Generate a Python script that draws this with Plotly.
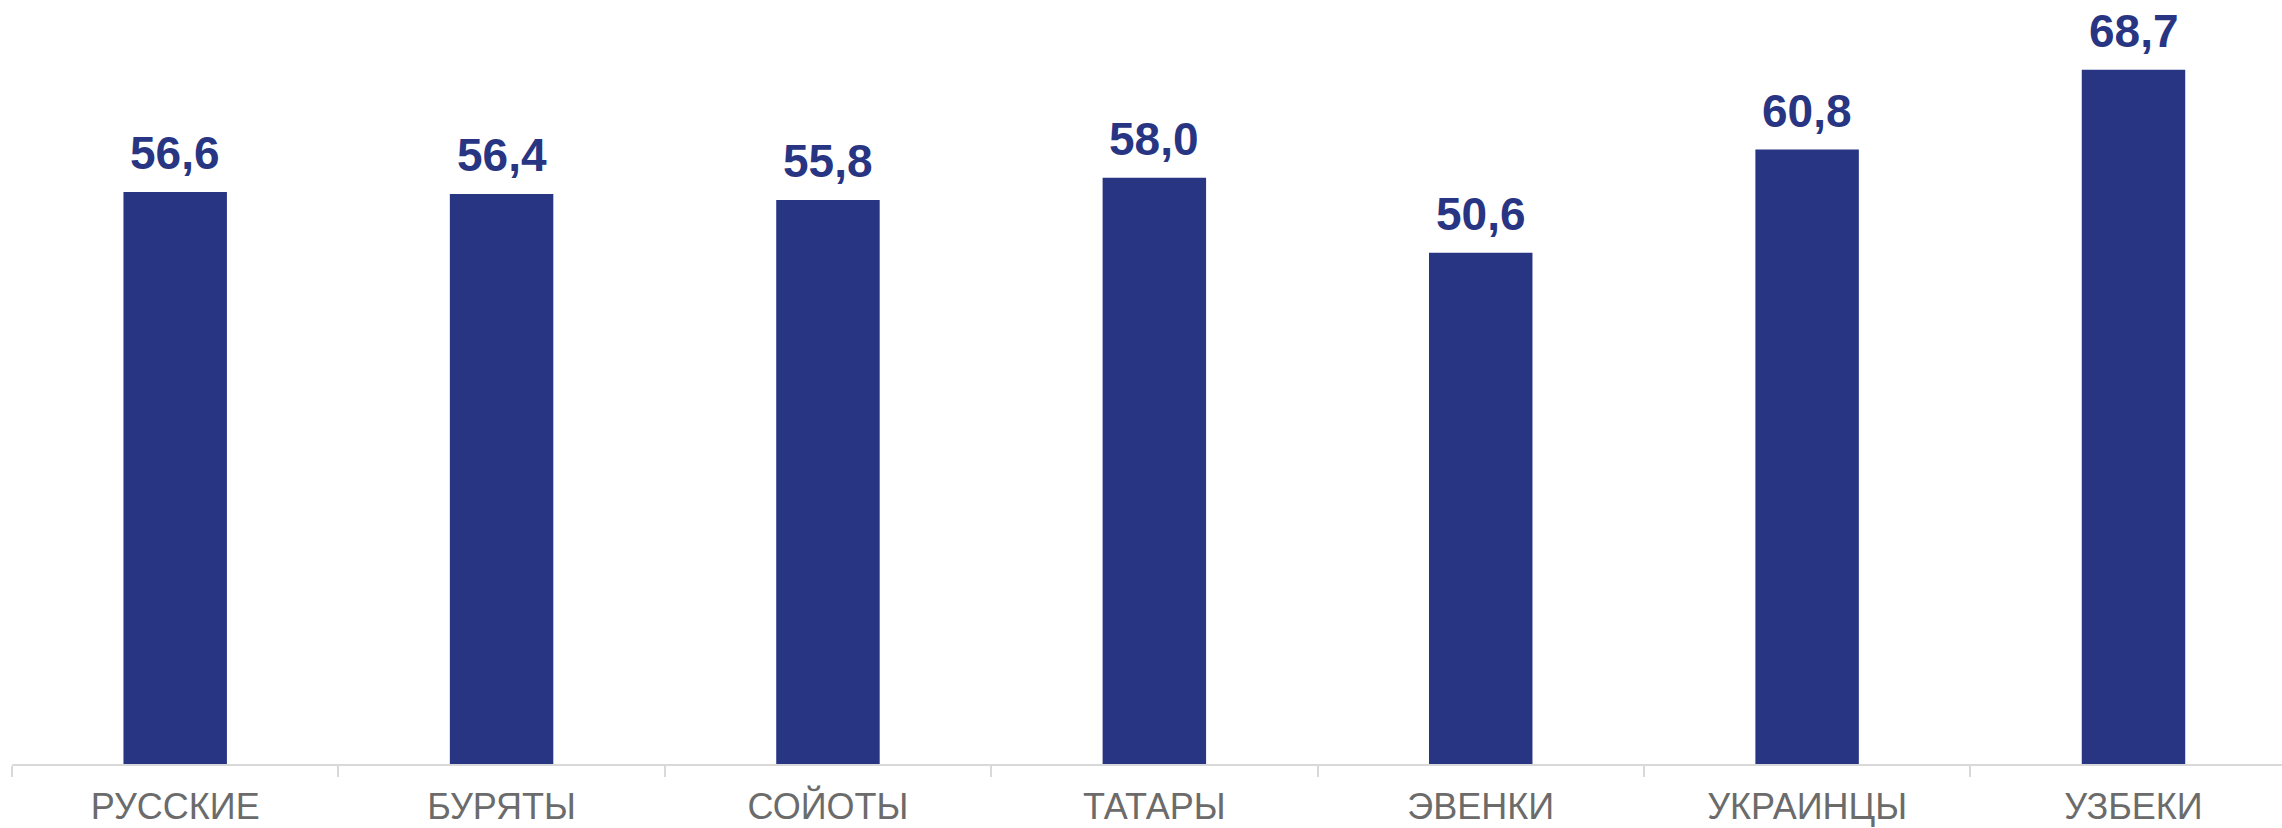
import plotly.graph_objects as go

categories = ["РУССКИЕ", "БУРЯТЫ", "СОЙОТЫ", "ТАТАРЫ", "ЭВЕНКИ", "УКРАИНЦЫ", "УЗБЕКИ"]
values = [56.6, 56.4, 55.8, 58.0, 50.6, 60.8, 68.7]
labels = [f"{v:.1f}".replace(".", ",") for v in values]

BAR = "#283583"

fig = go.Figure()
fig.add_trace(go.Bar(
    x=categories, y=values, width=0.317,
    marker=dict(color=BAR, line=dict(width=0)),
    hoverinfo="skip",
))

for c, v, t in zip(categories, values, labels):
    fig.add_annotation(
        x=c, y=v, text=f"<b>{t}</b>", showarrow=False,
        yanchor="bottom", xanchor="center", yshift=12, borderpad=0,
        height=48, valign="bottom",
        font=dict(family="Liberation Sans, Arial, sans-serif", size=46, color=BAR),
    )

fig.update_layout(
    width=2282, height=828,
    margin=dict(l=12, r=0, t=0, b=64),
    paper_bgcolor="white", plot_bgcolor="white",
    showlegend=False,
    xaxis=dict(
        type="category", range=[-0.5, 6.455],
        showline=True, linecolor="#d9d9d9", linewidth=2,
        ticks="outside", tickson="boundaries", ticklen=11, tickcolor="#d9d9d9", tickwidth=2,
        ticklabelstandoff=10,
        tickfont=dict(family="Liberation Sans, Arial, sans-serif", size=36, color="#6b6b6b"),
        showgrid=False, zeroline=False,
    ),
    yaxis=dict(
        range=[0, 75.6], visible=False, showgrid=False, zeroline=False,
    ),
)

fig.write_html("out.html", config={"displayModeBar": False},
               post_script="document.body.style.margin='0';")
